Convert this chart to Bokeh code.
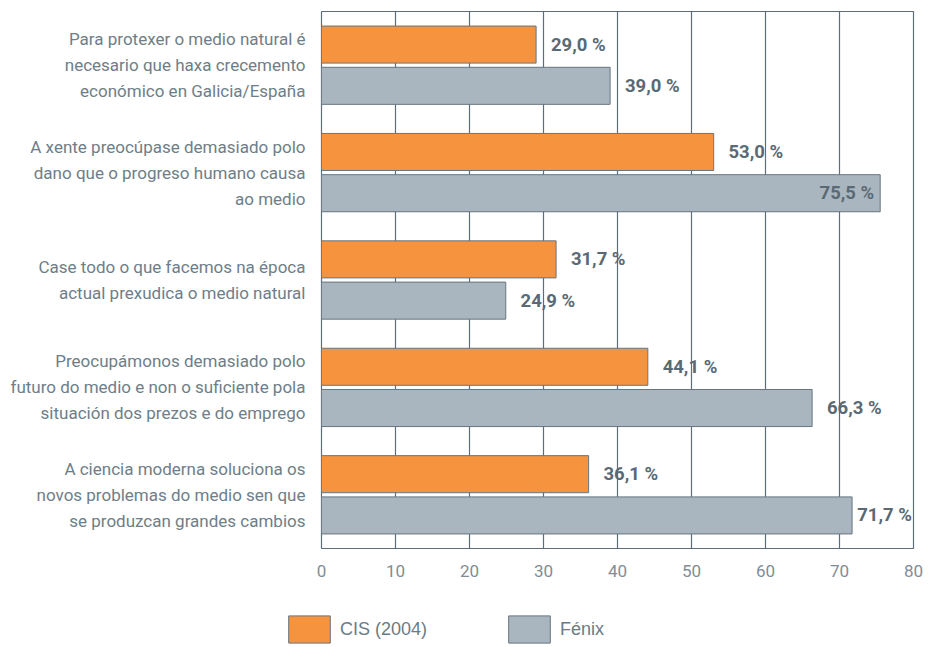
from bokeh.plotting import figure
from bokeh.layouts import column
from bokeh.models import (FactorRange, Range1d, ColumnDataSource, Legend, LegendItem,
                          FixedTicker)
from bokeh.transform import dodge
from bokeh.core.properties import value
from bokeh.embed import file_html
from bokeh.resources import INLINE

categories = [
    "Para protexer o medio natural é\nnecesario que haxa crecemento\neconómico en Galicia/España",
    "A xente preocúpase demasiado polo\ndano que o progreso humano causa\nao medio",
    "Case todo o que facemos na época\nactual prexudica o medio natural",
    "Preocupámonos demasiado polo\nfuturo do medio e non o suficiente pola\nsituación dos prezos e do emprego",
    "A ciencia moderna soluciona os\nnovos problemas do medio sen que\nse produzcan grandes cambios",
]
series_names = ["CIS (2004)", "Fénix"]
cis = [29.0, 53.0, 31.7, 44.1, 36.1]
fenix = [39.0, 75.5, 24.9, 66.3, 71.7]
x_ticks = [0, 10, 20, 30, 40, 50, 60, 70, 80]

FONT = "Roboto"
LEG_FONT = "Liberation Sans"
GRID = "#5E6E79"
ORANGE = "#F5933F"
GREY = "#AAB6BF"
EDGE = "#66757F"

XMAX = 80
LABEL_W = 7.6   # approx label width in data units
GAP = 2.0       # gap between bar end and label in data units


def label_layout(vals):
    xs, aligns, offs = [], [], []
    for v in vals:
        if v > XMAX - LABEL_W:
            xs.append(v); aligns.append("right"); offs.append(-6)
        else:
            xs.append(min(v + GAP, XMAX - LABEL_W)); aligns.append("left"); offs.append(0)
    return xs, aligns, offs


def fmt(v):
    return f"{v:.1f}".replace(".", ",") + " %"


cis_x, cis_al, cis_off = label_layout(cis)
fen_x, fen_al, fen_off = label_layout(fenix)

src = ColumnDataSource(dict(
    cat=categories, cis=cis, fenix=fenix,
    cis_lx=cis_x, cis_al=cis_al, cis_off=cis_off, cis_txt=[fmt(v) for v in cis],
    fen_lx=fen_x, fen_al=fen_al, fen_off=fen_off, fen_txt=[fmt(v) for v in fenix],
))

p = figure(width=924, height=590, output_backend="svg", toolbar_location=None,
           x_range=Range1d(0, XMAX),
           y_range=FactorRange(*list(reversed(categories)), range_padding=0),
           min_border_left=321, min_border_right=11, min_border_top=11,
           min_border_bottom=42)
p.frame_align = False

p.background_fill_color = "white"
p.border_fill_color = "white"
p.outline_line_color = GRID
p.outline_line_width = 1.2

OFF = 0.192
H = 0.345
r1 = p.hbar(y=dodge("cat", OFF, range=p.y_range), left=0, right="cis", height=H,
            source=src, fill_color=ORANGE, line_color=EDGE, line_width=1)
r2 = p.hbar(y=dodge("cat", -OFF, range=p.y_range), left=0, right="fenix", height=H,
            source=src, fill_color=GREY, line_color=EDGE, line_width=1)

p.text(x="cis_lx", y=dodge("cat", OFF, range=p.y_range), text="cis_txt", source=src,
       text_align="cis_al", x_offset="cis_off", text_baseline="middle",
       text_font=value(FONT), text_font_style="bold", text_font_size="18.5px",
       text_color="#5A6A75")
p.text(x="fen_lx", y=dodge("cat", -OFF, range=p.y_range), text="fen_txt", source=src,
       text_align="fen_al", x_offset="fen_off", text_baseline="middle",
       text_font=value(FONT), text_font_style="bold", text_font_size="18.5px",
       text_color="#5A6A75")

# grid
p.xgrid.ticker = FixedTicker(ticks=x_ticks)
p.xgrid.grid_line_color = GRID
p.xgrid.grid_line_width = 1.2
p.ygrid.visible = False

# axes
p.xaxis.ticker = FixedTicker(ticks=x_ticks)
p.xaxis.axis_line_color = None
p.xaxis.major_tick_line_color = None
p.xaxis.minor_tick_line_color = None
p.xaxis.major_label_standoff = 10
p.xaxis.major_label_text_font = FONT
p.xaxis.major_label_text_font_size = "17px"
p.xaxis.major_label_text_color = "#7F8D97"

p.yaxis.axis_line_color = None
p.yaxis.major_tick_line_color = None
p.yaxis.minor_tick_line_color = None
p.yaxis.major_label_standoff = 10
p.yaxis.major_label_text_font = FONT
p.yaxis.major_label_text_font_size = "17px"
p.yaxis.major_label_text_color = "#6E7E88"
p.yaxis.major_label_text_line_height = 1.3

# legend strip (separate small figure under the chart)
lg = figure(width=924, height=56, output_backend="svg", toolbar_location=None,
            x_range=Range1d(0, 1), y_range=Range1d(0, 1),
            min_border_left=0, min_border_right=0, min_border_top=0, min_border_bottom=0)
lg.frame_align = False
lg.axis.visible = False
lg.grid.visible = False
lg.outline_line_color = None
lg.background_fill_color = "white"
lg.border_fill_color = "white"
# legend-only proxies, placed outside the visible range
d1 = lg.hbar(y=[-5], left=[0], right=[1], height=0.5, fill_color=ORANGE,
             line_color=EDGE, line_width=1)
d2 = lg.hbar(y=[-5], left=[0], right=[1], height=0.5, fill_color=GREY,
             line_color=EDGE, line_width=1)

legend = Legend(items=[LegendItem(label=series_names[0], renderers=[d1]),
                       LegendItem(label=series_names[1], renderers=[d2])],
                orientation="horizontal", location=(283, 0),
                padding=0, margin=0, border_line_color=None,
                background_fill_alpha=0, label_standoff=5, spacing=76,
                glyph_width=52, glyph_height=34,
                label_text_font=LEG_FONT, label_text_font_size="18px",
                label_text_color="#6B7B85", label_text_baseline="top")
lg.add_layout(legend)

layout = column(p, lg, spacing=0)
open("out.html", "w").write(file_html(layout, INLINE))
